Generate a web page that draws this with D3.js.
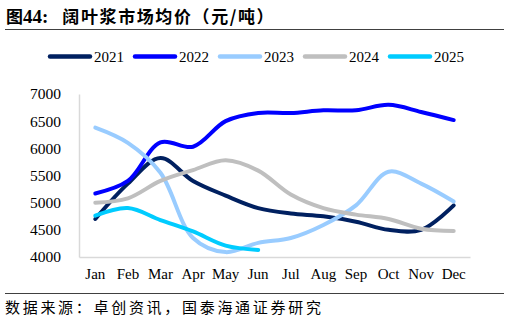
<!DOCTYPE html>
<html><head><meta charset="utf-8">
<script src="https://cdn.jsdelivr.net/npm/d3@7"></script>
<style>body{margin:0;background:#fff}svg{display:block}</style>
</head><body>
<svg id="c" width="510" height="325"></svg>
<script>
const months = ["Jan","Feb","Mar","Apr","May","Jun","Jul","Aug","Sep","Oct","Nov","Dec"];
const years = ["2021","2022","2023","2024","2025"];
const s2021 = [4700,5350,5820,5400,5130,4900,4800,4750,4650,4500,4500,4950];
const s2022 = [5170,5400,6110,6030,6500,6650,6650,6700,6700,6800,6670,6520];
const s2023 = [6380,6100,5550,4350,4090,4260,4350,4590,4950,5570,5350,5020];
const s2024 = [5000,5080,5400,5600,5780,5590,5150,4900,4780,4700,4520,4480];
const s2025 = [4760,4900,4680,4470,4210,4130];
const yTicks = [4000,4500,5000,5500,6000,6500,7000];
const colors = ["#002060","#0000FF","#99CCFF","#BFBFBF","#00CCFF"];
const series = [s2021,s2022,s2023,s2024,s2025];

const svg = d3.select("#c");
const serif = "'Liberation Serif','Times New Roman',serif";
const cjk = "'Noto Sans CJK SC',sans-serif";

// Title
const t = svg.append("text").attr("x",6).attr("y",23).attr("font-size",17).attr("font-weight","bold").attr("fill","#000");
t.append("tspan").attr("font-family",cjk).text("图");
t.append("tspan").attr("font-family",serif).attr("font-size",19).text("44:");
t.append("tspan").attr("font-family",cjk).attr("dx",14).attr("letter-spacing",1.6).text("阔叶浆市场均价（元/吨）");
svg.append("line").attr("x1",5).attr("x2",504).attr("y1",29.5).attr("y2",29.5).attr("stroke","#404040").attr("stroke-width",1);

// Scales
const x = d3.scaleBand().domain(months).range([79,470]);
const y = d3.scaleLinear().domain([4000,7000]).range([257,94]);

// Axes
const ya = svg.append("g").attr("transform","translate(79,0)").call(d3.axisLeft(y).tickValues(yTicks).tickSize(0).tickPadding(18).tickFormat(d3.format("d")));
ya.select(".domain").attr("stroke","#d9d9d9").attr("stroke-width",1.5);
ya.selectAll("text").attr("font-family",serif).attr("font-size",15.5).attr("fill","#000");
const xa = svg.append("g").attr("transform","translate(0,257)").call(d3.axisBottom(x).tickSize(0).tickPadding(11));
xa.select(".domain").attr("stroke","#d9d9d9").attr("stroke-width",1.5);
xa.selectAll("text").attr("font-family",serif).attr("font-size",15).attr("fill","#000");

// Lines
const line = d3.line().x((d,i)=>x(months[i])+x.bandwidth()/2).y(d=>y(d)).curve(d3.curveCatmullRom.alpha(0.5));
series.forEach((s,k)=>{
  svg.append("path").attr("d",line(s)).attr("fill","none").attr("stroke",colors[k]).attr("stroke-width",4).attr("stroke-linecap","round").attr("stroke-linejoin","round");
});

// Legend
years.forEach((yr,k)=>{
  const lx = 50 + k*85;
  svg.append("line").attr("x1",lx).attr("x2",lx+40).attr("y1",56.5).attr("y2",56.5).attr("stroke",colors[k]).attr("stroke-width",4.5).attr("stroke-linecap","round");
  svg.append("text").attr("x",lx+44).attr("y",62).attr("font-family",serif).attr("font-size",15).attr("fill","#000").text(yr);
});

// Footer
svg.append("line").attr("x1",5).attr("x2",504).attr("y1",293.5).attr("y2",293.5).attr("stroke","#404040").attr("stroke-width",1);
svg.append("text").attr("x",5).attr("y",313).attr("font-family",cjk).attr("font-size",15).attr("letter-spacing",2.7).attr("fill","#000").text("数据来源：卓创资讯，国泰海通证券研究");
</script>
</body></html>
